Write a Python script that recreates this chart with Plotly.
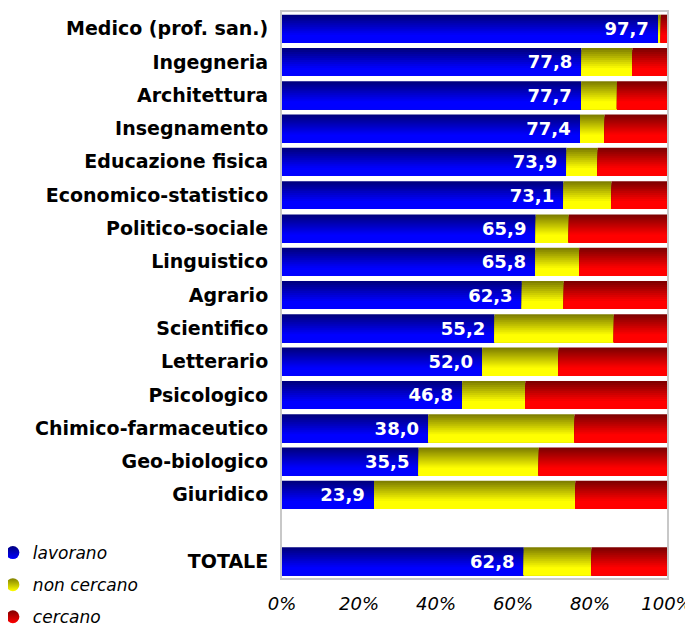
import plotly.graph_objects as go

categories = ["Medico (prof. san.)", "Ingegneria", "Architettura", "Insegnamento",
              "Educazione fisica", "Economico-statistico", "Politico-sociale",
              "Linguistico", "Agrario", "Scientifico", "Letterario", "Psicologico",
              "Chimico-farmaceutico", "Geo-biologico", "Giuridico", " ", "TOTALE"]
lavorano =    [97.7, 77.8, 77.7, 77.4, 73.9, 73.1, 65.9, 65.8, 62.3, 55.2, 52.0, 46.8, 38.0, 35.5, 23.9, None, 62.8]
non_cercano = [0.7, 13.2, 9.3, 6.4, 8.1, 12.5, 8.6, 11.4, 10.9, 31.0, 19.8, 16.4, 38.0, 31.2, 52.3, None, 17.6]
cercano =     [1.6, 9.0, 13.0, 16.2, 18.0, 14.4, 25.5, 22.8, 26.8, 13.8, 28.2, 36.8, 24.0, 33.3, 23.8, None, 19.6]
x_ticks = [0, 20, 40, 60, 80, 100]
x_tick_labels = ["0%", "20%", "40%", "60%", "80%", "100%"]

series = [("lavorano", lavorano, (0, 0, 255)),
          ("non cercano", non_cercano, (255, 255, 0)),
          ("cercano", cercano, (255, 0, 0))]

FONT = "DejaVu Sans"
BAR_W = 0.84
N = 14

def shade(rgb, f):
    return "rgb(%d,%d,%d)" % tuple(int(round(c * f)) for c in rgb)

fig = go.Figure()
bases = [0.0 if v is not None else None for v in lavorano]
for name, vals, rgb in series:
    for k in range(N):
        t = k / (N - 1)
        f = 0.5 + 0.5 * min(1.0, t / 0.75)
        fig.add_trace(go.Bar(
            y=categories, x=vals, base=bases, orientation="h",
            width=BAR_W - k * BAR_W / N, offset=-BAR_W / 2 + k * BAR_W / N,
            marker=dict(color=shade(rgb, f), line=dict(width=0)),
            showlegend=False, hoverinfo="skip"))
    bases = [b + v if (b is not None and v is not None) else None for b, v in zip(bases, vals)]

# value labels on the 'lavorano' segment
fig.add_trace(go.Bar(
    y=categories, x=lavorano, orientation="h", width=BAR_W, offset=-BAR_W / 2,
    marker=dict(color="rgba(0,0,0,0)", line=dict(width=0)),
    texttemplate="%{x:.1f}\u00a0", textposition="inside", insidetextanchor="end",
    textfont=dict(family=FONT, size=18, color="white", weight="bold"),
    constraintext="none", showlegend=False, hoverinfo="skip"))

# legend entries
for i, (name, vals, rgb) in enumerate(series):
    fig.add_trace(go.Scatter(
        x=[None], y=[None], mode="markers", name=name, legendgroup=name,
        marker=dict(symbol="circle", size=13, color=shade(rgb, 0.5),
                    gradient=dict(type="vertical", color=shade(rgb, 1.0)))))

fig.update_layout(
    width=685, height=618,
    margin=dict(l=274, r=26, t=4, b=48, autoexpand=False),
    barmode="overlay", separators=",.",
    plot_bgcolor="white", paper_bgcolor="white",
    font=dict(family=FONT, color="black"),
    xaxis=dict(range=[0, 100], tickmode="array", tickvals=x_ticks, ticktext=x_tick_labels,
               tickfont=dict(family=FONT, size=18, style="italic"),
               showgrid=False, zeroline=False, showline=True, mirror=True,
               linecolor="#c8c8c8", linewidth=2, ticks="", ticklabelstandoff=8),
    yaxis=dict(type="category", categoryorder="array", categoryarray=categories,
               autorange="reversed",
               tickfont=dict(family=FONT, size=19, weight="bold"),
               showgrid=False, zeroline=False, showline=True, mirror=True,
               linecolor="#c8c8c8", linewidth=2, ticks="", ticklabelstandoff=8),
    legend=dict(x=-0.751, xanchor="left", y=0.076, yanchor="top",
                font=dict(family=FONT, size=17, style="italic"),
                tracegroupgap=7, bgcolor="rgba(0,0,0,0)", itemwidth=30),
)

fig.write_html("out.html")
